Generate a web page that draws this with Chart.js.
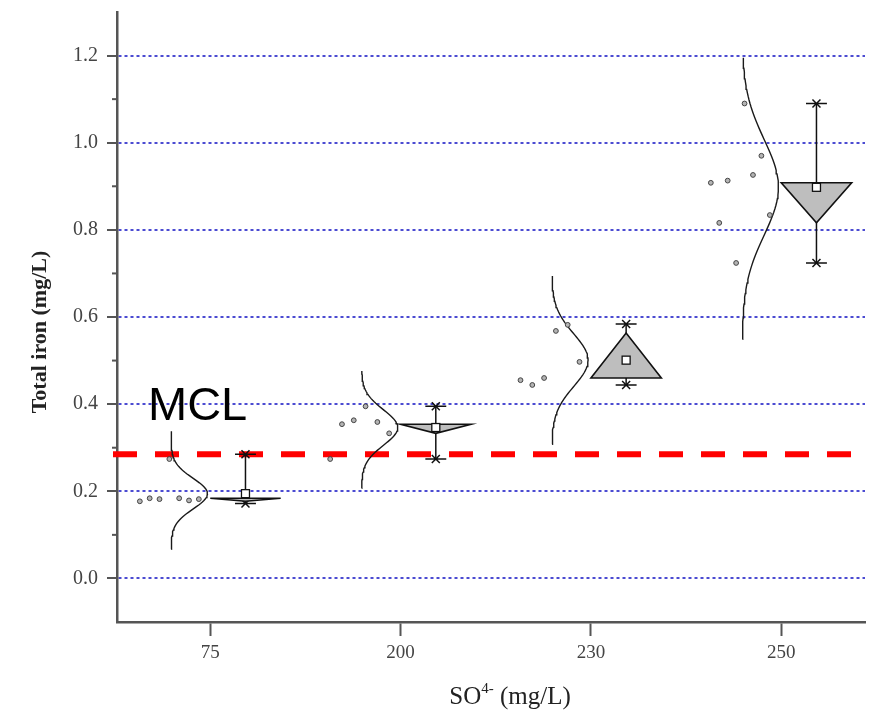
<!DOCTYPE html>
<html>
<head>
<meta charset="utf-8">
<title>Total iron vs SO4</title>
<script src="https://cdn.jsdelivr.net/npm/chart.js@4.4.1/dist/chart.umd.min.js"></script>
<style>
  html, body { margin: 0; padding: 0; background: #fff; }
  #wrap { width: 878px; height: 717px; }
</style>
</head>
<body>
<div id="wrap"><canvas id="chart" width="878" height="717"></canvas></div>
<script>
// sulfate levels (mg/L) on the x axis
const categories = ['75', '200', '230', '250'];

// total iron readings per sulfate level, in plotted order
const iron75  = [0.177, 0.184, 0.182, 0.274, 0.184, 0.179, 0.182];
const iron200 = [0.274, 0.354, 0.363, 0.395, 0.359, 0.333];
const iron230 = [0.455, 0.444, 0.460, 0.568, 0.582, 0.497];
const iron250 = [0.908, 0.816, 0.913, 0.724, 1.090, 0.926, 0.970, 0.834];
const groups = [iron75, iron200, iron230, iron250];

// box summary: flat edge, triangle tip, whisker ends
const boxEdge   = [0.184, 0.354, 0.460, 0.908];
const boxTip    = [0.177, 0.333, 0.563, 0.816];
const whiskerLo = [0.172, 0.274, 0.444, 0.724];
const whiskerHi = [0.285, 0.395, 0.584, 1.090];

// span of each fitted normal curve
const curveLo = [0.067, 0.207, 0.308, 0.549];
const curveHi = [0.338, 0.476, 0.694, 1.195];

const yTicks = [0, 0.2, 0.4, 0.6, 0.8, 1.0, 1.2];
const yMinor = [0.1, 0.3, 0.5, 0.7, 0.9, 1.1];
const MCL = 0.285;

// horizontal layout inside each category slot (x units)
const PTS_FROM = -0.37, PTS_SPAN = 0.31;
const CURVE_BASE = -0.205, CURVE_AMP = 0.19;
const BOX_SHIFT = 0.185, BOX_HALF = 0.185, CAP_HALF = 0.055;

const mean = a => a.reduce((s, v) => s + v, 0) / a.length;
const stdev = a => {
  const m = mean(a);
  return Math.sqrt(a.reduce((s, v) => s + (v - m) * (v - m), 0) / (a.length - 1));
};

const SERIF = '"Liberation Serif", "Times New Roman", serif';

const pointSets = groups.map((g, i) => ({
  data: g.map((v, k) => ({ x: i + PTS_FROM + (k / (g.length - 1)) * PTS_SPAN, y: v })),
  pointStyle: 'circle', pointRadius: 2.4,
  pointBackgroundColor: '#b4b4b4', pointBorderColor: '#444', pointBorderWidth: 1
}));

// normal curve fitted to each group, drawn upright
const curveSets = groups.map((g, i) => {
  const m = mean(g), s = stdev(g), pts = [];
  for (let k = 0; k <= 80; k++) {
    const v = curveLo[i] + (curveHi[i] - curveLo[i]) * k / 80;
    pts.push({ x: i + CURVE_BASE + CURVE_AMP * Math.exp(-((v - m) ** 2) / (2 * s * s)), y: v });
  }
  return { data: pts, showLine: true, pointRadius: 0, borderColor: '#1a1a1a', borderWidth: 1.4 };
});

const mclSet = {
  data: [{ x: -0.511, y: MCL }, { x: 3.374, y: MCL }],
  showLine: true, pointRadius: 0, borderColor: '#ff0000', borderWidth: 6,
  borderDash: [24, 18], clip: false
};

// keep the plot area exactly where the axes are sized, no label overhang padding
const noOverhang = s => { s.paddingTop = 0; s.paddingBottom = 0; s.paddingLeft = 0; s.paddingRight = 0; };

const boxPlugin = {
  id: 'ironBoxes',
  afterDatasetsDraw(chart) {
    const { ctx, scales: { x, y } } = chart;
    ctx.save();
    groups.forEach((g, i) => {
      const cx = x.getPixelForValue(i + BOX_SHIFT);
      const half = x.getPixelForValue(i + BOX_SHIFT + BOX_HALF) - cx;
      const cap = x.getPixelForValue(i + BOX_SHIFT + CAP_HALF) - cx;
      const yLo = y.getPixelForValue(whiskerLo[i]), yHi = y.getPixelForValue(whiskerHi[i]);

      ctx.strokeStyle = '#111';
      ctx.lineWidth = 1.5;
      ctx.beginPath();
      ctx.moveTo(cx, yLo); ctx.lineTo(cx, yHi);
      ctx.stroke();

      // whisker caps
      [yLo, yHi].forEach(py => {
        ctx.beginPath();
        ctx.moveTo(cx - cap, py); ctx.lineTo(cx + cap, py);
        ctx.moveTo(cx - 4, py - 4); ctx.lineTo(cx + 4, py + 4);
        ctx.moveTo(cx - 4, py + 4); ctx.lineTo(cx + 4, py - 4);
        ctx.stroke();
      });

      // triangle box
      const yEdge = y.getPixelForValue(boxEdge[i]), yTip = y.getPixelForValue(boxTip[i]);
      ctx.beginPath();
      ctx.moveTo(cx - half, yEdge); ctx.lineTo(cx + half, yEdge); ctx.lineTo(cx, yTip);
      ctx.closePath();
      ctx.fillStyle = '#bebebe';
      ctx.fill();
      ctx.lineWidth = 1.6;
      ctx.stroke();

      // mean marker
      const ym = y.getPixelForValue(mean(g));
      ctx.fillStyle = '#fff';
      ctx.lineWidth = 1.3;
      ctx.fillRect(cx - 4, ym - 4, 8, 8);
      ctx.strokeRect(cx - 4, ym - 4, 8, 8);
    });
    ctx.restore();
  },
  afterDraw(chart) {
    const { ctx, chartArea, scales: { y } } = chart;
    ctx.save();

    // minor ticks on the y axis
    ctx.strokeStyle = '#555';
    ctx.lineWidth = 2;
    yMinor.forEach(v => {
      const py = y.getPixelForValue(v);
      ctx.beginPath();
      ctx.moveTo(chartArea.left - 5, py); ctx.lineTo(chartArea.left, py);
      ctx.stroke();
    });

    // MCL label
    ctx.fillStyle = '#000';
    ctx.font = '47px "Liberation Sans", Arial, sans-serif';
    ctx.textBaseline = 'alphabetic';
    ctx.fillText('MCL', chartArea.left + 31, y.getPixelForValue(MCL) - 34);

    // y axis title
    ctx.save();
    ctx.translate(40, 332);
    ctx.rotate(-Math.PI / 2);
    ctx.textAlign = 'center';
    ctx.textBaseline = 'middle';
    ctx.fillStyle = '#222';
    ctx.font = 'bold 22px ' + SERIF;
    ctx.fillText('Total iron (mg/L)', 0, 0);
    ctx.restore();

    // x axis title with superscript
    ctx.fillStyle = '#222';
    const big = '25px ' + SERIF, small = '15px ' + SERIF;
    ctx.font = big;
    const wA = ctx.measureText('SO').width, wC = ctx.measureText(' (mg/L)').width;
    ctx.font = small;
    const wB = ctx.measureText('4-').width;
    let px = 510 - (wA + wB + wC) / 2;
    const base = 704;
    ctx.font = big; ctx.fillText('SO', px, base); px += wA;
    ctx.font = small; ctx.fillText('4-', px, base - 11); px += wB;
    ctx.font = big; ctx.fillText(' (mg/L)', px, base);
    ctx.restore();
  }
};

new Chart(document.getElementById('chart'), {
  type: 'scatter',
  data: { datasets: [...pointSets, ...curveSets, mclSet] },
  options: {
    responsive: false,
    animation: false,
    layout: { padding: { top: 12, right: 13, bottom: 0, left: 0 } },
    plugins: { legend: { display: false }, tooltip: { enabled: false } },
    scales: {
      x: {
        type: 'linear', min: -0.49, max: 3.44,
        afterBuildTicks: s => { s.ticks = categories.map((c, i) => ({ value: i })); },
        afterFit: s => { s.height = 95; noOverhang(s); },
        ticks: {
          callback: v => categories[v], color: '#444', padding: 6,
          font: { family: SERIF, size: 19 }, maxRotation: 0
        },
        grid: { drawOnChartArea: false, tickLength: 14, tickColor: '#555', tickWidth: 2 },
        border: { display: true, color: '#555', width: 2.5 }
      },
      y: {
        min: -0.1, max: 1.3,
        afterBuildTicks: s => { s.ticks = yTicks.map(v => ({ value: v })); },
        afterFit: s => { s.width = 117; noOverhang(s); },
        ticks: {
          callback: v => v.toFixed(1), color: '#444', padding: 9,
          font: { family: SERIF, size: 20 }
        },
        grid: {
          color: '#4b4bd2', lineWidth: 2, tickLength: 10, tickColor: '#555', tickWidth: 2,
          tickBorderDash: []
        },
        border: { display: true, color: '#555', width: 2.5, dash: [3, 3] }
      }
    }
  },
  plugins: [boxPlugin]
});
</script>
</body>
</html>
